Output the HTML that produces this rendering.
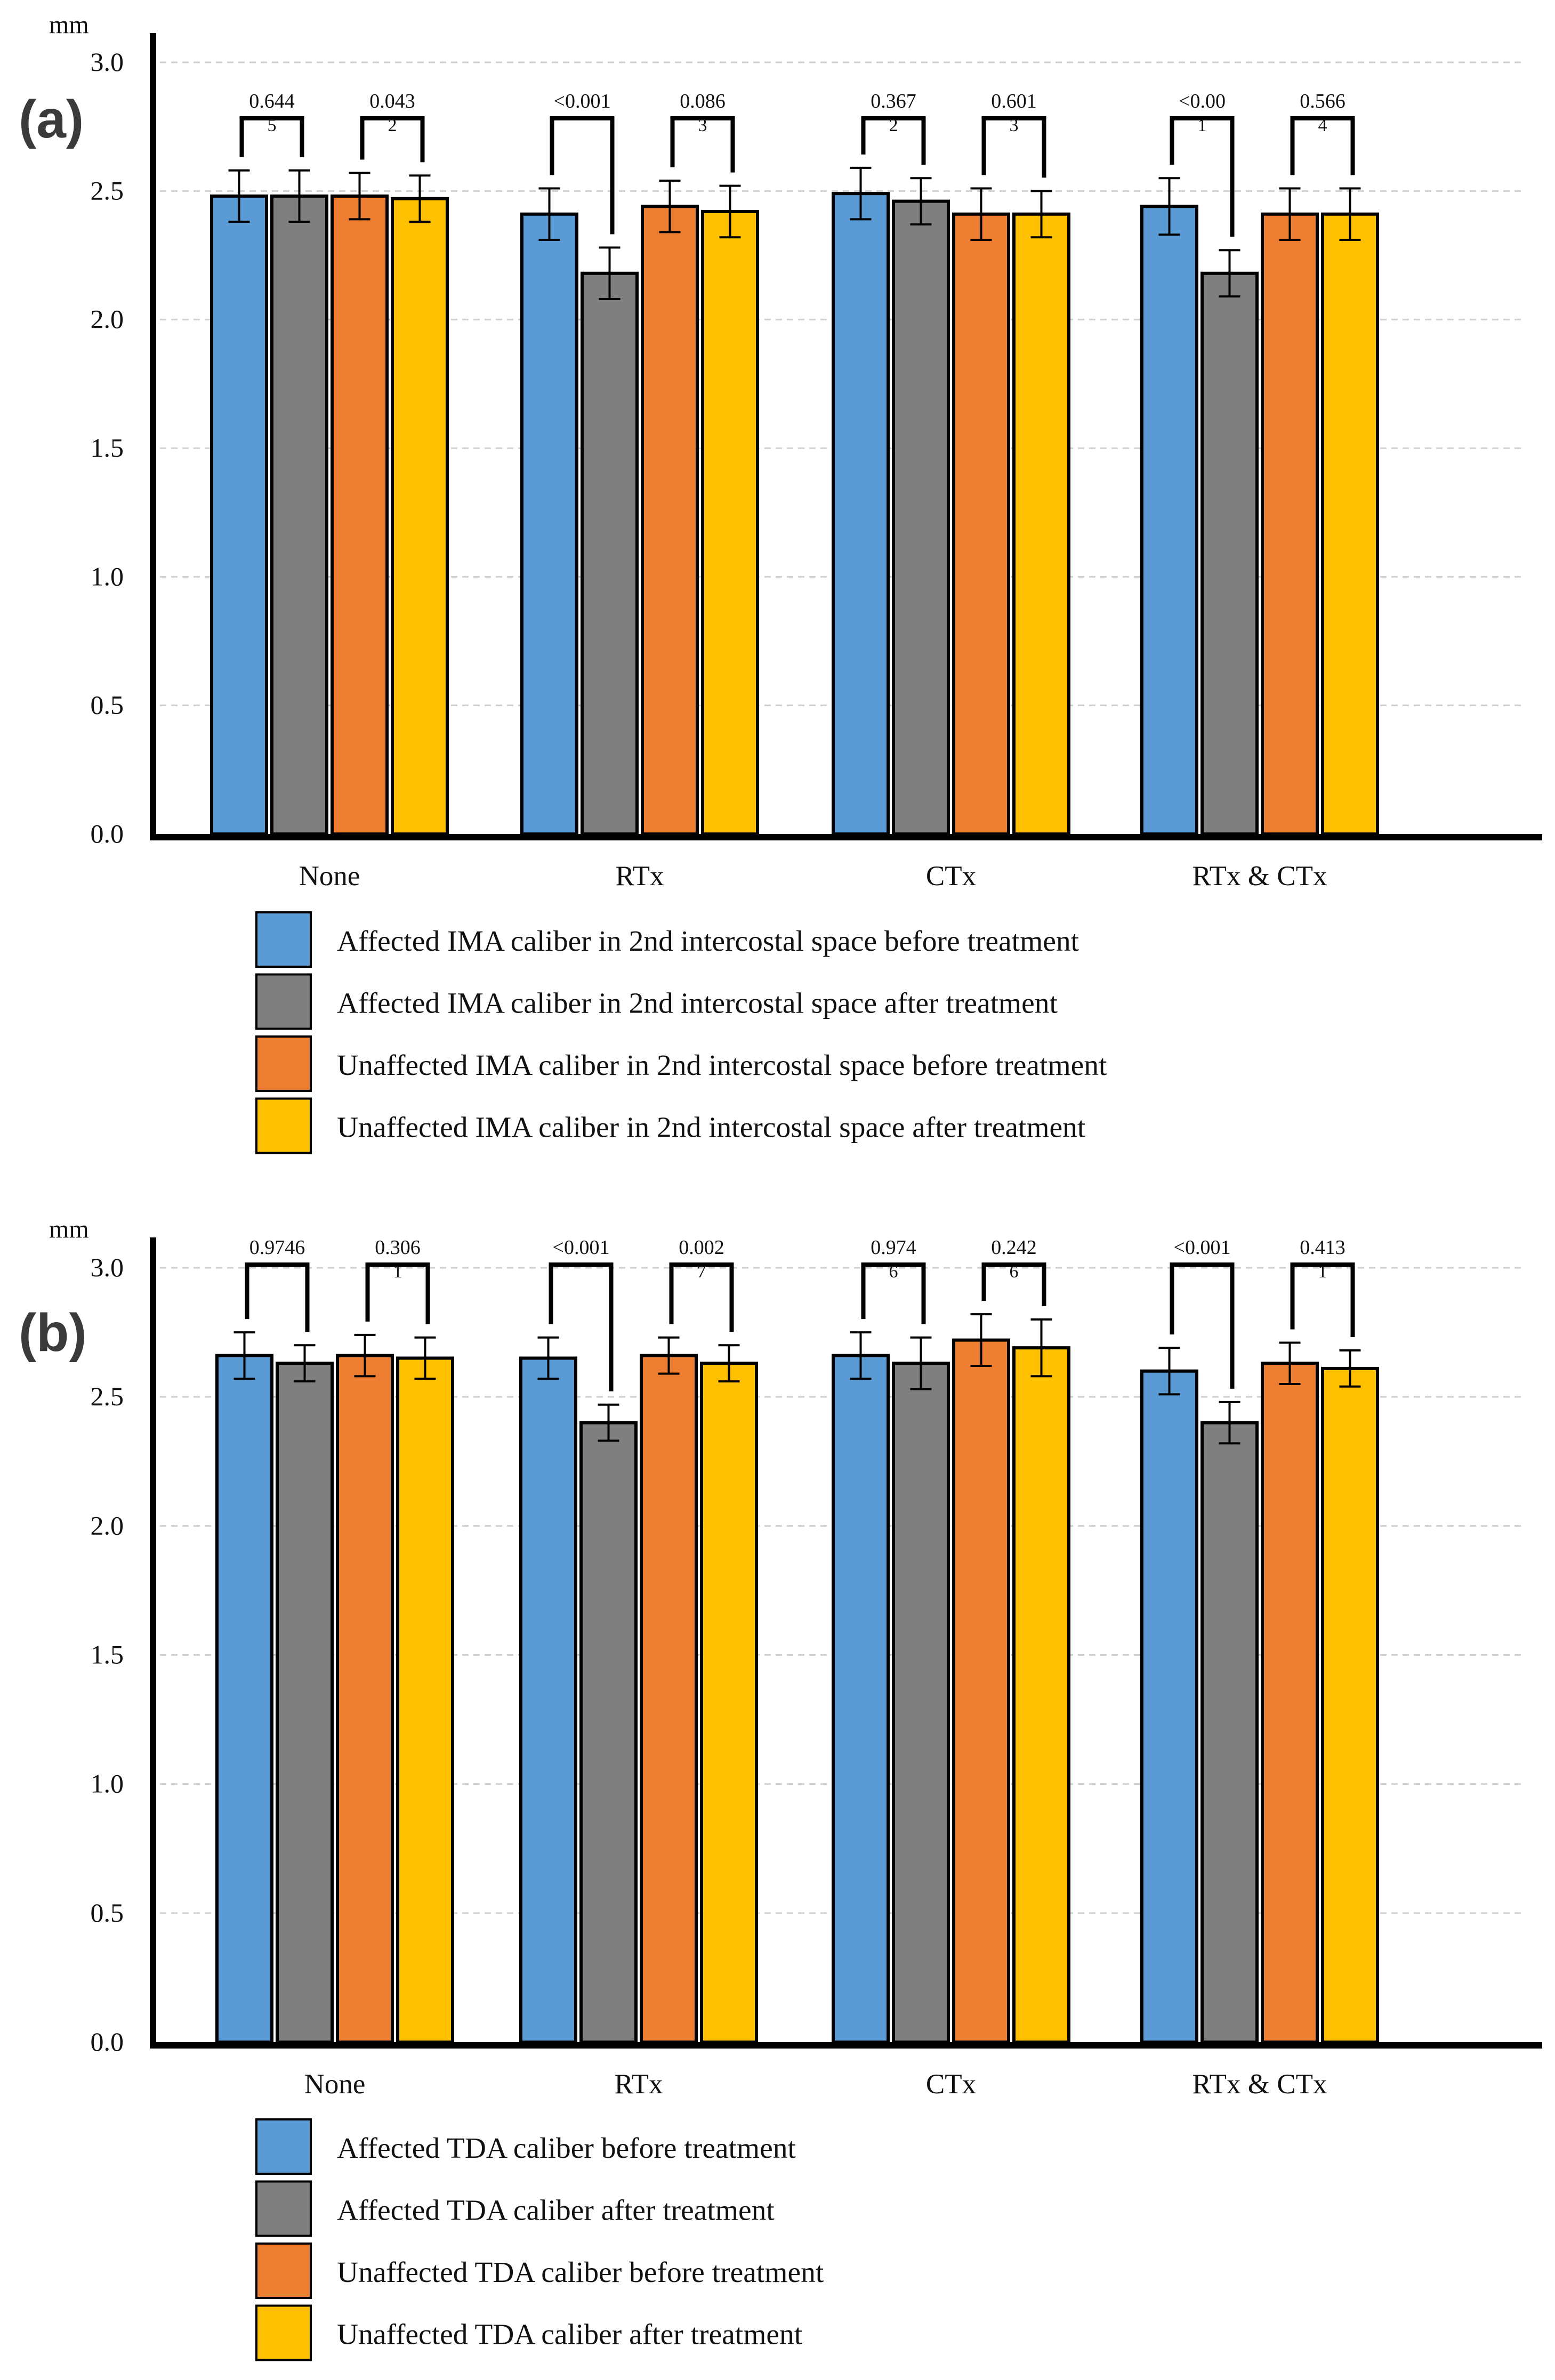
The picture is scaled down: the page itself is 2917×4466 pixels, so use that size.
<!DOCTYPE html>
<html><head><meta charset="utf-8"><style>
html,body{margin:0;padding:0;background:#fff;}
svg{display:block;font-family:"Liberation Serif",serif;}
</style></head><body>
<svg id="chart" width="2917" height="4466" viewBox="0 0 2917 4466" xmlns="http://www.w3.org/2000/svg"></svg>
<script>
const categories = ["None","RTx","CTx","RTx & CTx"];
const colors = ["#5B9BD5","#7F7F7F","#ED7D31","#FFC000"];
const yTicks = [0,0.5,1,1.5,2,2.5,3];
const tickLabels = ["0.0","0.5","1.0","1.5","2.0","2.5","3.0"];
// Panel a
const aAffBefore = [2.48,2.41,2.49,2.44];
const aAffAfter = [2.48,2.18,2.46,2.18];
const aUnaBefore = [2.48,2.44,2.41,2.41];
const aUnaAfter = [2.47,2.42,2.41,2.41];
const aErrAffBefore = [0.10,0.10,0.10,0.11];
const aErrAffAfter = [0.10,0.10,0.09,0.09];
const aErrUnaBefore = [0.09,0.10,0.10,0.10];
const aErrUnaAfter = [0.09,0.10,0.09,0.10];
const aP1 = ["0.644","<0.001","0.367","<0.00"];
const aP1b = ["5","","2","1"];
const aP2 = ["0.043","0.086","0.601","0.566"];
const aP2b = ["2","3","3","4"];
const aLegend = ["Affected IMA caliber in 2nd intercostal space before treatment","Affected IMA caliber in 2nd intercostal space after treatment","Unaffected IMA caliber in 2nd intercostal space before treatment","Unaffected IMA caliber in 2nd intercostal space after treatment"];
// Panel b
const bAffBefore = [2.66,2.65,2.66,2.60];
const bAffAfter = [2.63,2.40,2.63,2.40];
const bUnaBefore = [2.66,2.66,2.72,2.63];
const bUnaAfter = [2.65,2.63,2.69,2.61];
const bErrAffBefore = [0.09,0.08,0.09,0.09];
const bErrAffAfter = [0.07,0.07,0.10,0.08];
const bErrUnaBefore = [0.08,0.07,0.10,0.08];
const bErrUnaAfter = [0.08,0.07,0.11,0.07];
const bP1 = ["0.9746","<0.001","0.974","<0.001"];
const bP1b = ["","","6",""];
const bP2 = ["0.306","0.002","0.242","0.413"];
const bP2b = ["1","7","6","1"];
const bLegend = ["Affected TDA caliber before treatment","Affected TDA caliber after treatment","Unaffected TDA caliber before treatment","Unaffected TDA caliber after treatment"];

const NS="http://www.w3.org/2000/svg";
const svg=document.getElementById('chart');
function mk(tag,attrs,parent,text){const e=document.createElementNS(NS,tag);for(const k in attrs)e.setAttribute(k,attrs[k]);if(text!==undefined)e.textContent=text;(parent||svg).appendChild(e);return e;}

function panel(cfg){
  const g=mk('g',{});
  
  
  const base=cfg.base, top3=cfg.top3, unit=(base-top3)/3;
  const y=v=>base-v*unit;
  const groupX=cfg.groupX;
  yTicks.forEach((t,i)=>{
    if(t>0){const l=mk('line',{x1:300,x2:2860,y1:y(t),y2:y(t),stroke:'#cfcfcf','stroke-width':3,'stroke-dasharray':'12 9'},g);
      
      }
    const tx=mk('text',{x:232,y:y(t)+16,'text-anchor':'end','font-size':50,fill:'#111'},g,tickLabels[i]);
    
    
  });
  const mm=mk('text',{x:92,y:cfg.mmY,'font-size':48,fill:'#111'},g,'mm');
  
  
  const lab=mk('text',{x:35,y:cfg.labY,'font-size':100,'font-weight':'bold','font-family':'"Liberation Sans",sans-serif',fill:'#3a3a3a'},g,cfg.label);
  
  
  const series=[cfg.s[0],cfg.s[1],cfg.s[2],cfg.s[3]];
  const errs=cfg.e;
  categories.forEach((c,ci)=>{
    const errTop=[];const centers=[];
    for(let si=0;si<4;si++){
      const v=series[si][ci], er=errs[si][ci];
      const x=groupX[ci]+si*113, w=103;
      const r=mk('rect',{x:x,y:y(v),width:w,height:base-y(v),fill:colors[si],stroke:'#000','stroke-width':6},g);
      
      
      const cx=x+w/2;centers.push(cx);errTop.push(y(v+er));
      const eb=mk('path',{d:`M${cx} ${y(v+er)}V${y(v-er)}M${cx-20} ${y(v+er)}H${cx+20}M${cx-20} ${y(v-er)}H${cx+20}`,stroke:'#000','stroke-width':4,fill:'none'},g);
      
      
    }
    const pairs=[[0,1,cfg.p1[ci],cfg.p1b[ci]],[2,3,cfg.p2[ci],cfg.p2b[ci]]];
    pairs.forEach(p=>{
      const xl=centers[p[0]]+5,xr=centers[p[1]]+5,by=cfg.bracketY;
      const br=mk('path',{d:`M${xl} ${errTop[p[0]]-25}V${by}H${xr}V${errTop[p[1]]-25}`,stroke:'#000','stroke-width':8,fill:'none'},g);
      
      
      const t=mk('text',{x:(xl+xr)/2,y:by-20,'text-anchor':'middle','font-size':38,fill:'#111'},g,p[2]);
      
      
      if(p[3]){const t2=mk('text',{x:(xl+xr)/2,y:by+24,'text-anchor':'middle','font-size':34,fill:'#111'},g,p[3]);
        
        }
    });
    const cl=mk('text',{x:groupX[ci]+221,y:base+96,'text-anchor':'middle','font-size':53,fill:'#111'},g,c);
    
    
  });
  const ax=mk('path',{d:`M287 ${cfg.axTop}V${base+6}H2893`,stroke:'#000','stroke-width':12,fill:'none'},g);
  
  
  cfg.legend.forEach((txt,i)=>{
    const ly=cfg.legY+i*116.5;
    const r=mk('rect',{x:481,y:ly,width:102,height:102,fill:colors[i],stroke:'#000','stroke-width':4},g);
    
    
    const t=mk('text',{x:632,y:ly+72,'font-size':55.5,fill:'#111'},g,txt);
    
    
  });
}
panel({name:'panel-a',label:'(a)',base:1565,top3:117,axTop:62,mmY:62,labY:258,groupX:[397,979,1563,2142],
  s:[aAffBefore,aAffAfter,aUnaBefore,aUnaAfter],e:[aErrAffBefore,aErrAffAfter,aErrUnaBefore,aErrUnaAfter],
  p1:aP1,p1b:aP1b,p2:aP2,p2b:aP2b,bracketY:222,legend:aLegend,legY:1712});
panel({name:'panel-b',label:'(b)',base:3832,top3:2379,axTop:2322,mmY:2322,labY:2535,groupX:[407,977,1563,2142],
  s:[bAffBefore,bAffAfter,bUnaBefore,bUnaAfter],e:[bErrAffBefore,bErrAffAfter,bErrUnaBefore,bErrUnaAfter],
  p1:bP1,p1b:bP1b,p2:bP2,p2b:bP2b,bracketY:2373,legend:bLegend,legY:3977});
</script>
</body></html>
